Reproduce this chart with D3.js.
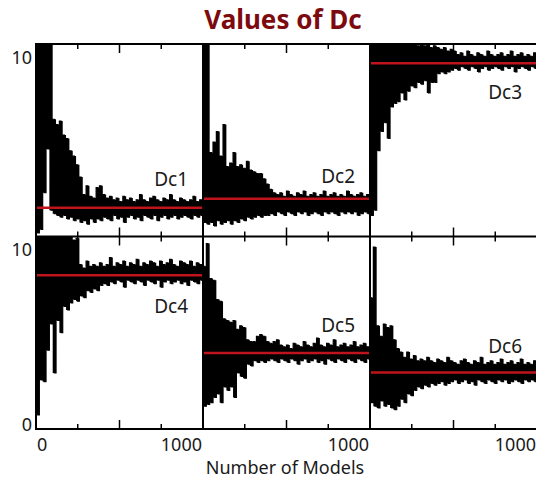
<!DOCTYPE html>
<html>
<head>
<meta charset="utf-8">
<script src="https://cdn.jsdelivr.net/npm/d3@7"></script>
<style>
  body { margin: 0; background: #fff; }
  svg { display: block; }
  text { font-family: "Noto Sans", "DejaVu Sans", sans-serif; }
</style>
</head>
<body>
<div id="chart"></div>
<script>
// Panel names and the red mean level of each one
const panelNames = ["Dc1", "Dc2", "Dc3", "Dc4", "Dc5", "Dc6"];
const meanValues = [1.65, 2.16, 9.9, 8.78, 4.34, 3.23];

// Trace: high swings at models 0,20,..,1000, low swings at 10,30,..,990
const dc1Hi = [11, 11, 11, 11, 11, 6.7, 6.4, 6.6, 5.8, 5.6, 4.9, 4.6, 4.1, 3.4, 2.4, 2.9, 2.3, 2.2, 2.8, 2.9, 2.4, 2.2, 2.3, 2.1, 2.2, 2.0, 2.3, 2.1, 2.2, 2.0, 2.1, 2.4, 2.1, 2.0, 2.2, 2.3, 2.1, 2.0, 2.2, 2.1, 2.4, 2.1, 2.0, 2.2, 2.1, 2.0, 2.1, 2.3, 2.0, 2.1, 2.0];
const dc1Lo = [0.2, 0.4, 2.5, 5.0, 1.5, 1.3, 1.2, 1.1, 1.2, 1.0, 1.1, 0.9, 1.0, 0.8, 0.9, 0.7, 1.0, 0.8, 1.0, 0.9, 1.1, 1.0, 0.9, 1.2, 1.0, 1.1, 0.8, 1.1, 1.2, 1.0, 1.1, 0.9, 1.2, 1.1, 1.0, 1.2, 0.9, 1.1, 1.2, 1.0, 1.1, 1.2, 1.0, 1.1, 1.2, 1.1, 1.0, 1.2, 1.1, 1.2];

const dc2Hi = [11, 11, 4.8, 5.4, 6.0, 4.6, 6.4, 4.0, 4.2, 4.8, 4.0, 4.1, 3.9, 4.3, 3.8, 3.7, 3.6, 3.6, 3.3, 3.0, 2.7, 2.5, 2.4, 2.5, 2.3, 2.6, 2.4, 2.3, 2.5, 2.4, 2.6, 2.3, 2.4, 2.5, 2.3, 2.4, 2.6, 2.3, 2.4, 2.5, 2.3, 2.4, 2.3, 2.6, 2.4, 2.3, 2.4, 2.5, 2.3, 2.4, 2.3];
const dc2Lo = [0.8, 0.7, 0.8, 0.6, 0.9, 0.7, 0.8, 0.9, 0.7, 0.9, 0.8, 1.0, 0.9, 1.1, 1.0, 1.1, 1.2, 1.1, 1.2, 1.2, 1.3, 1.2, 1.4, 1.3, 1.2, 1.4, 1.3, 1.2, 1.4, 1.3, 1.4, 1.2, 1.3, 1.4, 1.3, 1.2, 1.4, 1.3, 1.4, 1.3, 1.2, 1.4, 1.3, 1.4, 1.3, 1.4, 1.2, 1.3, 1.4, 1.3];

const dc3Hi = [11, 11, 11, 11, 11, 11, 11, 11, 11, 11, 11, 11, 11, 11, 10.9, 11, 10.9, 11, 10.8, 10.9, 10.8, 10.7, 10.8, 10.6, 10.7, 10.6, 10.4, 10.5, 10.3, 10.6, 10.4, 10.3, 10.5, 10.4, 10.3, 10.6, 10.4, 10.3, 10.4, 10.5, 10.3, 10.4, 10.6, 10.3, 10.4, 10.5, 10.3, 10.4, 10.3, 10.5, 10.4];
const dc3Lo = [1.2, 1.5, 4.9, 6.0, 6.5, 5.6, 7.4, 7.6, 7.7, 8.2, 7.8, 8.3, 8.6, 8.5, 8.8, 8.7, 8.9, 8.2, 8.8, 8.8, 9.3, 9.4, 9.3, 9.4, 9.5, 9.6, 9.5, 9.7, 9.6, 9.5, 9.7, 9.6, 9.4, 9.6, 9.7, 9.5, 9.6, 9.7, 9.6, 9.5, 9.7, 9.6, 9.7, 9.4, 9.6, 9.7, 9.6, 9.5, 9.7, 9.6];

const dc4Hi = [11, 11, 11, 11, 11, 11, 11, 11, 11, 11, 11, 10.8, 10.9, 9.4, 9.2, 9.6, 9.3, 9.4, 9.3, 9.5, 9.3, 9.4, 9.8, 9.3, 9.5, 9.4, 9.6, 9.3, 9.5, 9.4, 9.7, 9.3, 9.5, 9.4, 9.6, 9.5, 9.3, 9.6, 9.4, 9.5, 9.7, 9.4, 9.3, 9.6, 9.5, 9.4, 9.6, 9.3, 9.5, 9.4, 9.3];
const dc4Lo = [0.8, 2.8, 2.7, 4.5, 6.0, 3.2, 6.2, 5.5, 7.0, 6.8, 7.2, 7.4, 7.3, 7.6, 7.5, 7.9, 7.8, 8.0, 7.9, 8.2, 8.3, 8.2, 8.4, 8.3, 8.5, 8.4, 8.1, 8.5, 8.4, 8.3, 8.5, 8.4, 8.2, 8.5, 8.4, 8.3, 8.5, 8.1, 8.4, 8.5, 8.3, 8.4, 8.5, 8.3, 8.4, 8.2, 8.5, 8.4, 8.3, 8.5];

const dc5Hi = [9.3, 10.6, 8.6, 8.5, 7.4, 7.3, 6.3, 6.2, 6.1, 6.2, 5.7, 5.9, 5.8, 5.1, 5.0, 5.0, 5.3, 5.4, 5.3, 5.0, 4.9, 5.0, 5.1, 4.8, 4.7, 4.8, 4.6, 4.9, 4.8, 4.7, 5.0, 4.8, 4.7, 4.9, 5.2, 4.8, 4.7, 4.9, 4.8, 5.1, 4.7, 4.8, 4.9, 4.7, 4.8, 5.0, 4.7, 4.8, 4.9, 4.7, 4.8];
const dc5Lo = [1.3, 1.4, 1.5, 1.8, 2.0, 1.5, 2.4, 2.2, 2.4, 1.8, 3.2, 3.0, 2.9, 3.7, 3.6, 3.9, 3.8, 3.9, 3.8, 3.9, 4.0, 3.9, 3.8, 4.0, 3.9, 3.8, 4.0, 3.9, 3.7, 3.9, 4.0, 3.8, 3.9, 4.0, 3.8, 3.9, 3.7, 4.0, 3.9, 3.8, 4.0, 3.9, 3.8, 4.0, 3.9, 3.8, 4.0, 3.9, 3.8, 4.0];

const dc6Hi = [7.5, 10.4, 5.9, 5.3, 6.0, 5.8, 5.9, 5.1, 4.6, 4.4, 4.1, 4.4, 4.0, 4.2, 3.9, 4.0, 3.9, 4.1, 3.9, 3.8, 4.0, 3.9, 3.8, 4.1, 3.9, 3.8, 3.7, 3.9, 4.0, 3.8, 3.7, 3.9, 3.8, 4.1, 3.7, 3.8, 3.9, 3.7, 3.8, 4.0, 3.7, 3.8, 3.9, 3.7, 3.8, 4.0, 3.7, 3.8, 3.7, 3.9, 3.8];
const dc6Lo = [1.5, 1.3, 1.2, 1.6, 1.3, 1.4, 1.2, 1.1, 1.3, 1.7, 1.5, 2.0, 1.9, 2.2, 2.4, 2.3, 2.5, 2.4, 2.6, 2.5, 2.6, 2.7, 2.5, 2.6, 2.7, 2.8, 2.6, 2.7, 2.8, 2.6, 2.7, 2.5, 2.8, 2.7, 2.6, 2.8, 2.7, 2.6, 2.8, 2.7, 2.8, 2.6, 2.7, 2.8, 2.7, 2.6, 2.8, 2.7, 2.8, 2.7];

const hiSeries = [dc1Hi, dc2Hi, dc3Hi, dc4Hi, dc5Hi, dc6Hi];
const loSeries = [dc1Lo, dc2Lo, dc3Lo, dc4Lo, dc5Lo, dc6Lo];
const hiModels = d3.range(0, 1001, 20);
const loModels = d3.range(10, 1000, 20);

// Axis ticks and labels
const minorTicks = [250, 750];
const majorTicks = [500];
const yLabels = [10, 0];
const xLabels = ["0", "1000", "1000", "1000"];

// Layout
const W = 536, H = 478;
const colX = [36, 203, 370];
const rowY = [44, 236.5];
const pw = 167, ph = 192.5;

const svg = d3.select("#chart").append("svg")
  .attr("width", W)
  .attr("height", H);

const defs = svg.append("defs");

panelNames.forEach((name, i) => {
  const col = i % 3, row = Math.floor(i / 3);
  const x0 = colX[col], y0 = rowY[row];
  const hi = hiSeries[i], lo = loSeries[i];

  const x = d3.scaleLinear().domain([0, 1000]).range([x0, x0 + pw]);
  const y = d3.scaleLinear().domain([0, 11]).range([y0 + ph, y0]);

  defs.append("clipPath").attr("id", "clip" + i)
    .append("rect")
    .attr("x", x0).attr("y", y0)
    .attr("width", pw).attr("height", ph);

  // interleave high and low swings into one trace
  const trace = [];
  hi.forEach((v, k) => {
    trace.push([hiModels[k], v]);
    if (k < lo.length) trace.push([loModels[k], lo[k]]);
  });

  const g = svg.append("g").attr("clip-path", `url(#clip${i})`);

  // the swings are so dense they merge into a solid band
  const band = d3.area()
    .curve(d3.curveStepAfter)
    .x((d, k) => x(hiModels[k]))
    .y1(d => y(d))
    .y0((d, k) => y(lo[Math.min(k, lo.length - 1)]));

  g.append("path")
    .datum(hi)
    .attr("fill", "#000")
    .attr("d", band);

  const line = d3.line()
    .curve(d3.curveStepAfter)
    .x(d => x(d[0]))
    .y(d => y(d[1]));

  g.append("path")
    .datum(trace)
    .attr("fill", "none")
    .attr("stroke", "#000")
    .attr("stroke-width", 1.2)
    .attr("d", line);

  // mean level
  g.append("line")
    .attr("x1", x(0)).attr("x2", x(1000))
    .attr("y1", y(meanValues[i])).attr("y2", y(meanValues[i]))
    .attr("stroke", "#c0141c")
    .attr("stroke-width", 2.5);

  // inward ticks on top and bottom edges
  const ticks = minorTicks.map(t => [t, 5]).concat(majorTicks.map(t => [t, 9]));
  ticks.forEach(([t, len]) => {
    svg.append("line")
      .attr("x1", x(t)).attr("x2", x(t))
      .attr("y1", y0 + ph).attr("y2", y0 + ph - len)
      .attr("stroke", "#000").attr("stroke-width", 1.5);
    svg.append("line")
      .attr("x1", x(t)).attr("x2", x(t))
      .attr("y1", y0).attr("y2", y0 + len)
      .attr("stroke", "#000").attr("stroke-width", 1.5);
  });

  // panel name
  svg.append("text")
    .attr("x", x0 + pw - 15)
    .attr("y", row === 0 ? [186, 183, 99][col] : [313, 332, 353][col])
    .attr("text-anchor", "end")
    .attr("font-size", "19px")
    .attr("fill", "#1a1a1a")
    .text(name);

  // y labels on the left column
  if (col === 0) {
    yLabels.forEach(v => {
      if (row === 0 && v === 0) return;
      svg.append("text")
        .attr("x", 32)
        .attr("y", y(v) + 2)
        .attr("text-anchor", "end")
        .attr("font-size", "18px")
        .attr("fill", "#1a1a1a")
        .text(v);
    });
  }
});

// frame
const frame = svg.append("g")
  .attr("fill", "none")
  .attr("stroke", "#000")
  .attr("stroke-width", 2);
frame.append("rect")
  .attr("x", colX[0]).attr("y", rowY[0])
  .attr("width", 3 * pw).attr("height", 2 * ph);
frame.append("line")
  .attr("x1", colX[0]).attr("x2", colX[0] + 3 * pw)
  .attr("y1", rowY[1]).attr("y2", rowY[1]);
[colX[1], colX[2]].forEach(cx => {
  frame.append("line")
    .attr("x1", cx).attr("x2", cx)
    .attr("y1", rowY[0]).attr("y2", rowY[1] + ph);
});

// x tick labels
const bottom = rowY[1] + ph;
svg.append("text")
  .attr("x", colX[0] + 1)
  .attr("y", bottom + 22)
  .attr("font-size", "18px")
  .attr("fill", "#1a1a1a")
  .text(xLabels[0]);
colX.forEach((cx, j) => {
  svg.append("text")
    .attr("x", cx + pw - 1)
    .attr("y", bottom + 22)
    .attr("text-anchor", "end")
    .attr("font-size", "18px")
    .attr("fill", "#1a1a1a")
    .text(xLabels[j + 1]);
});

// axis title
svg.append("text")
  .attr("x", 285)
  .attr("y", 474)
  .attr("text-anchor", "middle")
  .attr("font-size", "18px")
  .attr("fill", "#1a1a1a")
  .text("Number of Models");

// chart title
svg.append("text")
  .attr("x", 283)
  .attr("y", 29)
  .attr("text-anchor", "middle")
  .attr("font-size", "26px")
  .attr("font-weight", "bold")
  .attr("fill", "#7d0a0e")
  .text("Values of Dc");
</script>
</body>
</html>
